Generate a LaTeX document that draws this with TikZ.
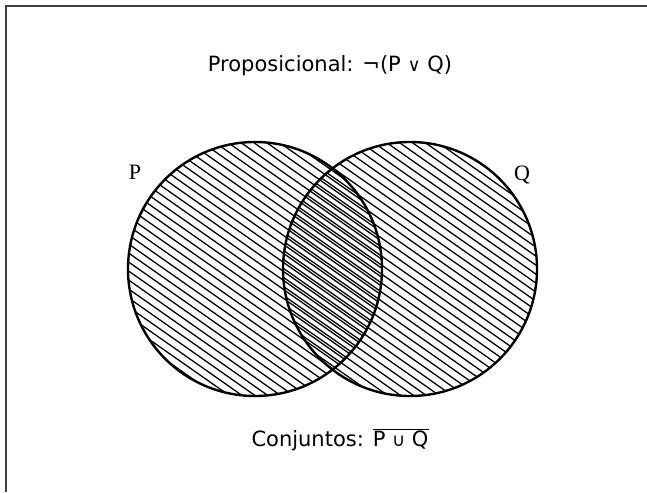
\documentclass[tikz,border=0pt]{standalone}
\usepackage{fontspec}
\setmainfont{DejaVu Sans}
\newfontfamily\labelfont{Liberation Serif}
\newcommand{\smallop}[1]{{\fontsize{18}{21}\selectfont #1}}
\begin{document}
\begin{tikzpicture}[x=1pt,y=-1pt,
  circ/.style={line width=2.4pt},
  hatchline/.style={line width=1.3pt},
  txt/.style={font=\fontsize{21}{25}\selectfont, inner sep=0pt},
  lbl/.style={font=\labelfont\fontsize{22}{26}\selectfont, inner sep=0pt}]
\useasboundingbox (0,0) rectangle (647,492);
% frame (left and top edges visible)
\draw[line width=1.5pt, black!75] (6,492) -- (6,6) -- (647,6);
% hatching P
\begin{scope}
  \clip (255,269) circle (127);
  \foreach \c in {-260,-251,...,400}
    \draw[hatchline] (100,{0.7*100+\c}) -- (560,{0.7*560+\c});
\end{scope}
% hatching Q
\begin{scope}
  \clip (410,269) circle (127);
  \foreach \c in {-263,-254,...,400}
    \draw[hatchline] (100,{0.7*100+\c}) -- (560,{0.7*560+\c});
\end{scope}
\node[circ, draw, circle, minimum size=254pt, inner sep=0pt] (P) at (255,269) {};
\node[circ, draw, circle, minimum size=254pt, inner sep=0pt] (Q) at (410,269) {};
\node[lbl] (lp) at (135,172) {P};
\node[lbl] (lq) at (522,175) {Q};
\node[txt] (prop) at (330,66) {Proposicional: ¬(P \smallop{∨} Q)};
\node[txt] (conj) at (340,440) {Conjuntos: $\overline{\hbox{P \smallop{∪} Q}}$};
\end{tikzpicture}
\end{document}
